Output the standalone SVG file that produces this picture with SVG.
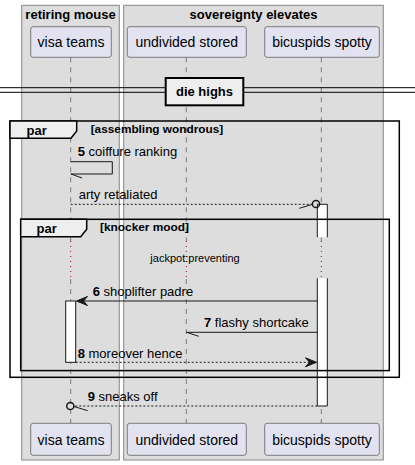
<svg xmlns="http://www.w3.org/2000/svg" width="415" height="465" viewBox="0 0 415 465">
<style>
text{font-family:"Liberation Sans",Arial,sans-serif;fill:#000}
.box{fill:#DDDDDD;stroke:#888888;stroke-width:1}
.btitle{font-size:13px;font-weight:bold;text-anchor:middle}
.part rect{fill:#E2E2F0;stroke:#181818;stroke-width:0.5}
.part text{font-size:14px;text-anchor:middle}
.life{stroke:#181818;stroke-width:0.5;stroke-dasharray:5,5;fill:none}
.delay{stroke:#A80036;stroke-width:1;stroke-dasharray:1,4;fill:none}
.act{fill:#FFFFFF;stroke:none}
.actl{stroke:#181818;stroke-width:1;fill:none}
.frame{fill:none;stroke:#000;stroke-width:1.5}
.tab{fill:#EEEEEE;stroke:#000;stroke-width:1.5}
.ftitle{font-size:13px;font-weight:bold}
.fcond{font-size:11.7px;font-weight:bold}
.msg{stroke:#181818;stroke-width:1;fill:none}
.dash{stroke-dasharray:2,2}
.head{fill:#181818;stroke:#181818;stroke-width:1}
.mtext{font-size:13px}
.num{font-weight:bold}
</style>
<rect width="415" height="465" fill="#FFFFFF"/>
<g id="box-retiring-mouse">
<rect class="box" x="21.7" y="5.3" width="97.6" height="454.7"/>
<text class="btitle" x="70.5" y="18.5">retiring mouse</text>
</g>
<g id="box-sovereignty-elevates">
<rect class="box" x="123.7" y="5.3" width="259.6" height="454.7"/>
<text class="btitle" x="253.5" y="18.5">sovereignty elevates</text>
</g>
<g id="lifelines">
<path class="life" d="M70.7,57.3V241M70.7,279V423.3M186.3,57.3V241M186.3,279V423.3M321.3,57.3V241M321.3,279V423.3"/>
<path class="delay" d="M70.7,241V279M186.3,241V279M321.3,241V279"/>
</g>
<g id="separator">
<line x1="0" y1="87.7" x2="415" y2="87.7" stroke="#000" stroke-width="1"/>
<line x1="0" y1="92.3" x2="415" y2="92.3" stroke="#000" stroke-width="1"/>
<rect x="165.7" y="78" width="77.6" height="27.3" fill="#EEEEEE" stroke="#000" stroke-width="2"/>
<text x="204.5" y="96.3" font-size="13" font-weight="bold" text-anchor="middle">die highs</text>
</g>
<g id="visa-teams" class="part">
<rect x="30.7" y="26.7" width="80.6" height="30.6" rx="2.5"/>
<text x="71" y="46.5">visa teams</text>
<rect x="30.7" y="423.3" width="80.6" height="32" rx="2.5"/>
<text x="71" y="444.5">visa teams</text>
</g>
<g id="undivided-stored" class="part">
<rect x="127.3" y="26.7" width="119" height="30.6" rx="2.5"/>
<text x="186.8" y="46.5">undivided stored</text>
<rect x="127.3" y="423.3" width="119" height="32" rx="2.5"/>
<text x="186.8" y="444.5">undivided stored</text>
</g>
<g id="bicuspids-spotty" class="part">
<rect x="264.7" y="26.7" width="114.6" height="30.6" rx="2.5"/>
<text x="322" y="46.5">bicuspids spotty</text>
<rect x="264.7" y="423.3" width="114.6" height="32" rx="2.5"/>
<text x="322" y="444.5">bicuspids spotty</text>
</g>
<g id="activations">
<rect class="act" x="317.3" y="204.3" width="10" height="33"/>
<path class="actl" d="M317.3,237.3V204.3H327.3V237.3"/>
<rect class="act" x="317.3" y="278.3" width="10" height="127.7"/>
<path class="actl" d="M317.3,278.3V406H327.3V278.3"/>
<rect class="act" x="65.7" y="301" width="10" height="61.3"/>
<rect class="actl" x="65.7" y="301" width="10" height="61.3"/>
</g>
<g id="frame-assembling-wondrous">
<rect class="frame" x="10" y="121" width="389.3" height="256.3"/>
<path class="tab" d="M10,121H76.7V131L71,138.3H10Z"/>
<text class="ftitle" x="26.5" y="135">par</text>
<text class="fcond" x="90.7" y="133" textLength="132.5" lengthAdjust="spacingAndGlyphs">[assembling wondrous]</text>
</g>
<g id="frame-knocker-mood">
<rect class="frame" x="20.7" y="219.3" width="368.6" height="151.3"/>
<path class="tab" d="M20.7,219.3H86.7V229.3L80.7,236.7H20.7Z"/>
<text class="ftitle" x="36.5" y="233">par</text>
<text class="fcond" x="100" y="231.3" textLength="89" lengthAdjust="spacingAndGlyphs">[knocker mood]</text>
</g>
<g id="delay">
<text x="195" y="261.7" font-size="11" text-anchor="middle">jackpot:preventing</text>
</g>
<g id="connectors">
<g id="m5">
<polyline class="msg" points="70.7,161.7 112.3,161.7 112.3,174 70.7,174"/>
<line class="msg" x1="71" y1="174" x2="82" y2="178"/>
<text class="mtext" x="77.7" y="155.7"><tspan class="num">5</tspan> coiffure ranking</text>
</g>
<g id="m-arty">
<line class="msg dash" x1="70.7" y1="204.3" x2="312.5" y2="204.3"/>
<line class="msg" x1="299.3" y1="208.3" x2="312.5" y2="204.3"/>
<circle cx="316" cy="204" r="3.6" fill="none" stroke="#181818" stroke-width="1.5"/>
<text class="mtext" x="78.7" y="199">arty retaliated</text>
</g>
<g id="m6">
<line class="msg" x1="317.3" y1="301" x2="78" y2="301"/>
<polygon class="head" points="76.5,301 87.5,296.5 83.5,301 87.5,305.5"/>
<text class="mtext" x="92.7" y="295.7"><tspan class="num">6</tspan> shoplifter padre</text>
</g>
<g id="m7">
<line class="msg" x1="317.3" y1="332.3" x2="186.3" y2="332.3"/>
<line class="msg" x1="186.7" y1="332.3" x2="198.7" y2="336.3"/>
<text class="mtext" x="204" y="327"><tspan class="num">7</tspan> flashy shortcake</text>
</g>
<g id="m8">
<line class="msg dash" x1="75.7" y1="362.3" x2="314" y2="362.3"/>
<polygon class="head" points="316.5,362.3 305.5,357.8 309.5,362.3 305.5,366.8"/>
<text class="mtext" x="77.7" y="358"><tspan class="num">8</tspan> moreover hence</text>
</g>
<g id="m9">
<line class="msg dash" x1="317.3" y1="406" x2="74" y2="406"/>
<line class="msg" x1="74" y1="406.5" x2="87.7" y2="410.7"/>
<circle cx="70.3" cy="406" r="3.6" fill="none" stroke="#181818" stroke-width="1.5"/>
<text class="mtext" x="87.7" y="400.7"><tspan class="num">9</tspan> sneaks off</text>
</g>
</g>
</svg>
